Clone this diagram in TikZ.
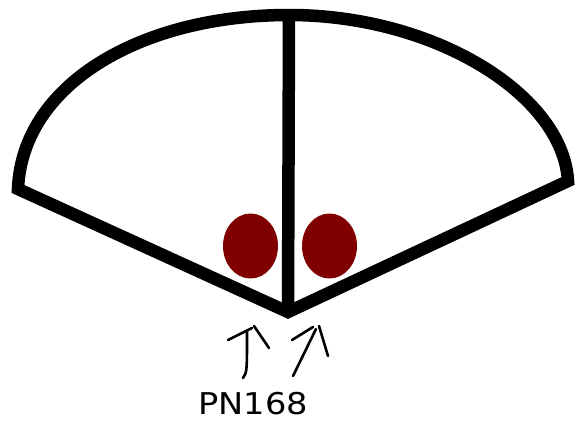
\documentclass[tikz,border=0pt]{standalone}
\usepackage{fontspec}
\newfontfamily\lblfont[FakeStretch=1.12]{DejaVu Sans}
\definecolor{spot}{HTML}{800000}
\begin{document}
\begin{tikzpicture}[x=1pt,y=-1pt,
  outline/.style={line width=12.5pt,line join=miter,black},
  spotfill/.style={fill=spot},
  arrowline/.style={line width=2.6pt,line cap=round,line join=round}]
\useasboundingbox (0,0) rectangle (575,421);
\coordinate (L) at (18,189);
\coordinate (R) at (568,181);
\coordinate (V) at (288,312);
\coordinate (T) at (289,15);
% fan outline
\draw[outline] (L) .. controls (22,85) and (140,15) .. (T)
  .. controls (435,15) and (563,95) .. (R) -- (V) -- cycle;
\draw[outline,line cap=butt] (T) -- (V);
% spots
\fill[spotfill] (250.5,246) ellipse [x radius=27.5, y radius=32.5];
\fill[spotfill] (329.5,246) ellipse [x radius=27.5, y radius=32.5];
% arrows
\draw[arrowline] (243,378) .. controls (247,372) .. (247,331);
\draw[arrowline] (228,340) -- (252,328);
\draw[arrowline] (254,326) -- (269,348);
\draw[arrowline] (293,376) -- (316,329);
\draw[arrowline] (292,340) -- (313,327);
\draw[arrowline] (319,326) -- (328,356);
% label
\node[inner sep=0pt,font=\lblfont\fontsize{30}{36}\selectfont] (lbl) at (253,404) {PN168};
\end{tikzpicture}
\end{document}
